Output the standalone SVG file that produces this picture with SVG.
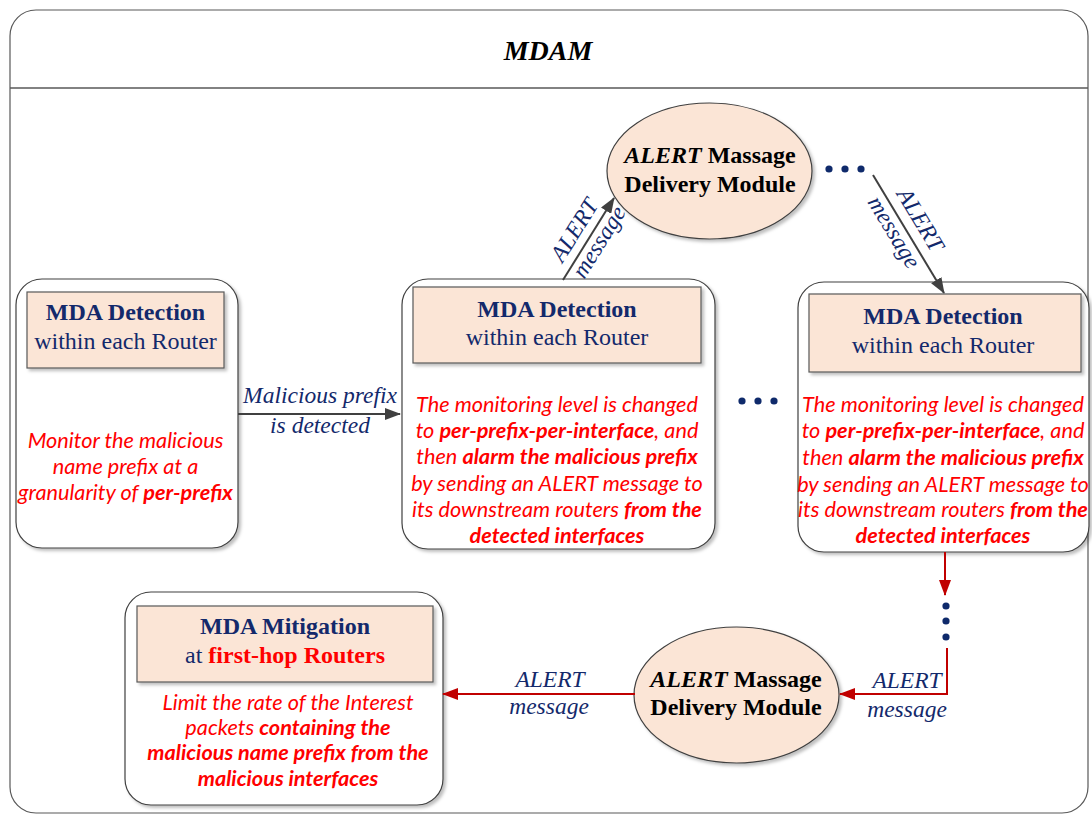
<svg xmlns="http://www.w3.org/2000/svg" width="1092" height="814" viewBox="0 0 1092 814">
<defs>
<filter id="sh" x="-10%" y="-10%" width="125%" height="125%">
<feDropShadow dx="2.5" dy="2.5" stdDeviation="1.5" flood-color="#000" flood-opacity="0.25"/>
</filter>
<marker id="ag" markerUnits="userSpaceOnUse" viewBox="0 0 16 12" refX="15" refY="6" markerWidth="16" markerHeight="12" orient="auto">
<path d="M0,0 L16,6 L0,12 z" fill="#404040"/>
</marker>
<marker id="ar" markerUnits="userSpaceOnUse" viewBox="0 0 16 12" refX="15" refY="6" markerWidth="16" markerHeight="12" orient="auto">
<path d="M0,0 L16,6 L0,12 z" fill="#C00000"/>
</marker>
<style>
.box{fill:#fff;stroke:#404040;stroke-width:1.2}
.hdr{fill:#FBE5D6;stroke:#595959;stroke-width:1.2}
.ell{fill:#FBE5D6;stroke:#404040;stroke-width:1.2}
.t1{font-family:"Liberation Serif",serif;font-weight:bold;font-size:24px;fill:#13296B;text-anchor:middle}
.t2{font-family:"Liberation Serif",serif;font-size:24px;fill:#13296B;text-anchor:middle}
.red{font-family:Lato,"Liberation Sans",sans-serif;font-style:italic;font-size:21.7px;fill:#FF0000;text-anchor:middle}
.b{font-weight:bold}
.el{font-family:"Liberation Serif",serif;font-weight:bold;font-size:24px;fill:#000;text-anchor:middle}
.lbl{font-family:"Liberation Serif",serif;font-style:italic;font-size:23.5px;fill:#13296B;text-anchor:middle}
.cg{fill:none;stroke:#404040;stroke-width:2}
.cr{fill:none;stroke:#C00000;stroke-width:2}
.dot{fill:#0F2A6B}
</style>
</defs>

<g id="frame">
<rect x="10" y="10" width="1078" height="803" rx="26" ry="26" fill="#fff" stroke="#595959" stroke-width="1.2"/>
<line x1="10" y1="88" x2="1088" y2="88" stroke="#595959" stroke-width="1.5"/>
<text x="548" y="60" font-family="Liberation Serif,serif" font-weight="bold" font-style="italic" font-size="28" fill="#000" text-anchor="middle">MDAM</text>
</g>

<g id="box-left">
<rect class="box" x="16" y="279" width="222" height="269" rx="26" filter="url(#sh)"/>
<rect class="hdr" x="27" y="292" width="197" height="76" filter="url(#sh)"/>
<text class="t1" x="125.5" y="320">MDA Detection</text>
<text class="t2" x="125.5" y="349">within each Router</text>
<text class="red" x="125.5" y="448">Monitor the malicious</text>
<text class="red" x="125.5" y="474">name prefix at a</text>
<text class="red" x="125.5" y="500">granularity of <tspan class="b">per-prefix</tspan></text>
</g>

<g id="box-mid">
<rect class="box" x="402" y="279" width="313" height="270" rx="26" filter="url(#sh)"/>
<rect class="hdr" x="413" y="287" width="288" height="76" filter="url(#sh)"/>
<text class="t1" x="557" y="317">MDA Detection</text>
<text class="t2" x="557" y="345">within each Router</text>
<text class="red" x="557" y="412">The monitoring level is changed</text>
<text class="red" x="557" y="438">to <tspan class="b">per-prefix-per-interface</tspan>, and</text>
<text class="red" x="557" y="464">then <tspan class="b">alarm the malicious prefix</tspan></text>
<text class="red" x="557" y="491">by sending an ALERT message to</text>
<text class="red" x="557" y="517">its downstream routers <tspan class="b">from the</tspan></text>
<text class="red" x="557" y="543"><tspan class="b">detected interfaces</tspan></text>
</g>

<g id="box-right">
<rect class="box" x="798" y="282" width="291" height="270" rx="26" filter="url(#sh)"/>
<rect class="hdr" x="809" y="294" width="272" height="78" filter="url(#sh)"/>
<text class="t1" x="943" y="324">MDA Detection</text>
<text class="t2" x="943" y="353">within each Router</text>
<text class="red" x="943" y="412">The monitoring level is changed</text>
<text class="red" x="943" y="438">to <tspan class="b">per-prefix-per-interface</tspan>, and</text>
<text class="red" x="943" y="465">then <tspan class="b">alarm the malicious prefix</tspan></text>
<text class="red" x="943" y="492">by sending an ALERT message to</text>
<text class="red" x="943" y="517">its downstream routers <tspan class="b">from the</tspan></text>
<text class="red" x="943" y="543"><tspan class="b">detected interfaces</tspan></text>
</g>

<g id="box-mitigation">
<rect class="box" x="125" y="592" width="318" height="213" rx="26" filter="url(#sh)"/>
<rect class="hdr" x="137" y="606" width="296" height="76" filter="url(#sh)"/>
<text class="t1" x="285" y="634">MDA Mitigation</text>
<text class="t2" x="285" y="663">at <tspan font-weight="bold" fill="#FF0000">first-hop Routers</tspan></text>
<text class="red" x="288" y="710">Limit the rate of the Interest</text>
<text class="red" x="288" y="735">packets <tspan class="b">containing the</tspan></text>
<text class="red" x="288" y="760"><tspan class="b">malicious name prefix from the</tspan></text>
<text class="red" x="288" y="786"><tspan class="b">malicious interfaces</tspan></text>
</g>

<g id="ellipse-top">
<ellipse class="ell" cx="709.5" cy="171" rx="102.5" ry="68" filter="url(#sh)"/>
<text class="el" x="710" y="163"><tspan font-style="italic">ALERT</tspan> Massage</text>
<text class="el" x="710" y="192">Delivery Module</text>
</g>

<g id="ellipse-bottom">
<ellipse class="ell" cx="736.5" cy="695" rx="102.5" ry="68" filter="url(#sh)"/>
<text class="el" x="736" y="687"><tspan font-style="italic">ALERT</tspan> Massage</text>
<text class="el" x="736" y="715">Delivery Module</text>
</g>

<g id="connectors">
<path class="cg" d="M238,414 L400,414" marker-end="url(#ag)"/>
<path class="cg" d="M563,280 L614,198" marker-end="url(#ag)"/>
<path class="cg" d="M873,175 L944,293" marker-end="url(#ag)"/>
<path class="cr" d="M945,552 L945,595" marker-end="url(#ar)"/>
<path class="cr" d="M947,648 L947,694 L840,694" marker-end="url(#ar)"/>
<path class="cr" d="M635,694 L443,694" marker-end="url(#ar)"/>

<text class="lbl" x="320" y="403">Malicious prefix</text>
<text class="lbl" x="320" y="433">is detected</text>

<g transform="translate(588.5,239) rotate(-58)">
<text class="lbl" x="0" y="-9">ALERT</text>
<text class="lbl" x="3" y="18">message</text>
</g>
<g transform="translate(908.5,234) rotate(58.9)">
<text class="lbl" x="-6" y="-10">ALERT</text>
<text class="lbl" x="-9" y="19">message</text>
</g>

<text class="lbl" x="550" y="687">ALERT</text>
<text class="lbl" x="549" y="714">message</text>
<text class="lbl" x="907" y="688">ALERT</text>
<text class="lbl" x="907" y="717">message</text>

<circle class="dot" cx="829" cy="169" r="3.6"/>
<circle class="dot" cx="845" cy="169" r="3.6"/>
<circle class="dot" cx="861" cy="169" r="3.6"/>
<circle class="dot" cx="742" cy="401" r="3.6"/>
<circle class="dot" cx="758" cy="401" r="3.6"/>
<circle class="dot" cx="774" cy="401" r="3.6"/>
<circle class="dot" cx="946" cy="606" r="3.6"/>
<circle class="dot" cx="946" cy="621" r="3.6"/>
<circle class="dot" cx="946" cy="637" r="3.6"/>
</g>
</svg>
